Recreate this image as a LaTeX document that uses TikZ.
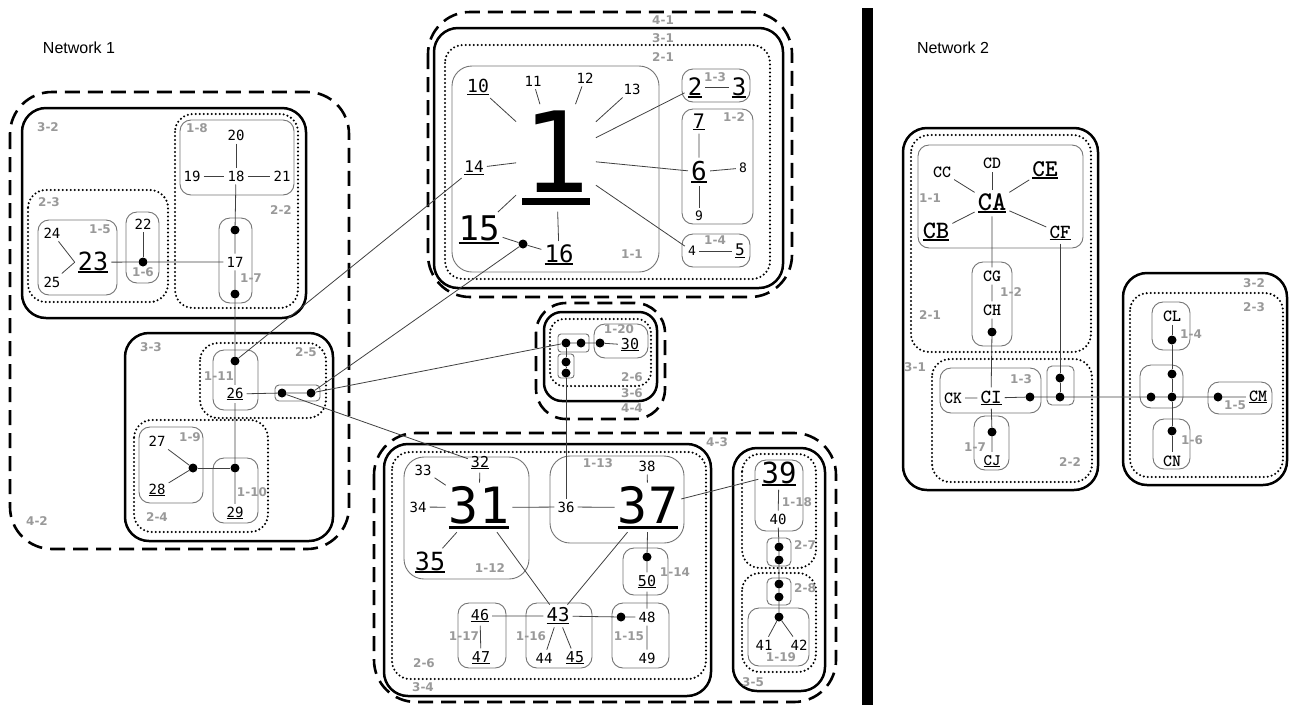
\documentclass[tikz,border=0pt]{standalone}
\usepackage{fontspec}
\setmainfont{Liberation Sans}
\newfontfamily\monof{DejaVu Sans Mono}
\newfontfamily\grpf{DejaVu Sans}
\newcommand{\mfs}[1]{\monof\fontsize{#1}{#1}\selectfont}
\newcommand{\cfs}[1]{\ttfamily\bfseries\fontsize{#1}{#1}\selectfont}
\newcommand{\uln}[1]{\setbox0=\hbox{#1}\rlap{\rule[-0.12em]{\wd0}{0.07em}}\box0}

\begin{document}
\begin{tikzpicture}[x=1pt, y=-1pt,
    lb/.style={font=\mfs{#1}, inner sep=3pt}, lb/.default=14,
    cl/.style={font=\cfs{#1}, inner sep=3pt}, cl/.default=17,
    gl/.style={font=\grpf\bfseries\fontsize{12}{12}\selectfont, text=black!40, inner sep=0pt},
    dt/.style={circle, fill=black, inner sep=0pt, minimum size=9pt},
    lk/.style={draw=black!75, line width=0.8pt},
    g1/.style={draw=black!55, line width=0.9pt, rounded corners=11pt},
    g2/.style={draw=black, line width=2.3pt, dash pattern=on 0pt off 4pt, line cap=round, rounded corners=18pt},
    g3/.style={draw=black, line width=2.5pt, rounded corners=24pt},
    g4/.style={draw=black, line width=2.6pt, dash pattern=on 15pt off 8pt, rounded corners=42pt}
  ]
  \useasboundingbox (0,0) rectangle (1290,705);

  % network titles and divider
  \node[font=\fontsize{16}{16}\selectfont] (net1) at (79,48) {Network 1};
  \node[font=\fontsize{16}{16}\selectfont] (net2) at (953,48) {Network 2};
  \fill (862,8) rectangle (873,705);

  % groups, network 1, left
  \draw[g4] (10,92) rectangle (349,549);
  \draw[g3] (22,108) rectangle (306,318);
  \draw[g2] (175,114) rectangle (298,308);
  \draw[g1] (180,120) rectangle (294,195);
  \draw[g2] (28,190) rectangle (168,302);
  \draw[g1] (38,220) rectangle (117,295);
  \draw[g1] (126,212) rectangle (159,283);
  \draw[g1] (219,218) rectangle (252,303);
  \draw[g3] (125,333) rectangle (333,541);
  \draw[g2] (200,343) rectangle (326,418);
  \draw[g1] (213,350) rectangle (258,410);
  \draw[g1, rounded corners=4pt] (275,385) rectangle (320,401);
  \draw[g2] (134,420) rectangle (268,532);
  \draw[g1] (139,427) rectangle (203,503);
  \draw[g1] (213,458) rectangle (258,523);

  % groups, top
  \draw[g4] (428,12) rectangle (792,297);
  \draw[g3] (434,28) rectangle (783,288);
  \draw[g2] (445,45) rectangle (770,279);
  \draw[g1, rounded corners=20pt] (452,66) rectangle (659,272);
  \draw[g1] (682,69) rectangle (750,102);
  \draw[g1] (682,109) rectangle (753,224);
  \draw[g1] (682,234) rectangle (750,267);

  % groups, centre
  \draw[g4, rounded corners=30pt] (536,303) rectangle (665,419);
  \draw[g3, rounded corners=18pt] (544,312) rectangle (657,401);
  \draw[g2, rounded corners=14pt] (550,319) rectangle (651,386);
  \draw[g1] (594,324) rectangle (648,358);
  \draw[g1, rounded corners=3pt] (558,334) rectangle (589,352);
  \draw[g1, rounded corners=3pt] (558,354) rectangle (574,378);

  % groups, bottom
  \draw[g4] (374,433) rectangle (836,702);
  \draw[g3] (384,444) rectangle (711,696);
  \draw[g2] (392,452) rectangle (706,679);
  \draw[g1, rounded corners=20pt] (404,457) rectangle (529,579);
  \draw[g1, rounded corners=20pt] (550,456) rectangle (684,543);
  \draw[g1] (623,548) rectangle (668,595);
  \draw[g1] (612,603) rectangle (669,668);
  \draw[g1] (526,603) rectangle (592,668);
  \draw[g1] (458,603) rectangle (506,668);
  \draw[g3] (733,448) rectangle (825,691);
  \draw[g2] (742,454) rectangle (816,568);
  \draw[g2] (742,573) rectangle (816,672);
  \draw[g1] (755,460) rectangle (803,531);
  \draw[g1, rounded corners=5pt] (767,538) rectangle (791,566);
  \draw[g1, rounded corners=5pt] (767,578) rectangle (791,605);
  \draw[g1] (748,608) rectangle (809,666);

  % groups, network 2
  \draw[g3] (903,128) rectangle (1098,490);
  \draw[g2] (911,135) rectangle (1091,352);
  \draw[g1] (918,145) rectangle (1083,248);
  \draw[g1] (972,262) rectangle (1012,346);
  \draw[g2] (932,359) rectangle (1092,482);
  \draw[g1] (940,368) rectangle (1041,413);
  \draw[g1, rounded corners=5pt] (1047,366) rectangle (1074,405);
  \draw[g1] (974,416) rectangle (1009,470);
  \draw[g3] (1123,273) rectangle (1287,485);
  \draw[g2] (1130,293) rectangle (1283,477);
  \draw[g1] (1152,302) rectangle (1190,350);
  \draw[g1] (1140,365) rectangle (1183,408);
  \draw[g1] (1208,382) rectangle (1272,414);
  \draw[g1] (1153,419) rectangle (1190,469);

  % group labels
  \node[gl] (q32) at (48,127) {3-2};
  \node[gl] (q18) at (197,128) {1-8};
  \node[gl] (q22) at (281,210) {2-2};
  \node[gl] (q23) at (49,202) {2-3};
  \node[gl] (q15) at (100,229) {1-5};
  \node[gl] (q16) at (143,272) {1-6};
  \node[gl] (q17) at (251,278) {1-7};
  \node[gl] (q42) at (37,521) {4-2};
  \node[gl] (q33) at (151,347) {3-3};
  \node[gl] (q25) at (306,352) {2-5};
  \node[gl] (q111) at (219,376) {1-11};
  \node[gl] (q19) at (190,437) {1-9};
  \node[gl] (q24) at (157,517) {2-4};
  \node[gl] (q110) at (252,492) {1-10};
  \node[gl] (q41) at (663,20) {4-1};
  \node[gl] (q31) at (663,38) {3-1};
  \node[gl] (q21) at (663,57) {2-1};
  \node[gl] (q13) at (715,77) {1-3};
  \node[gl] (q12) at (734,117) {1-2};
  \node[gl] (q14) at (715,240) {1-4};
  \node[gl] (q11) at (632,254) {1-1};
  \node[gl] (q120) at (619,329) {1-20};
  \node[gl] (q26a) at (632,377) {2-6};
  \node[gl] (q36) at (632,393) {3-6};
  \node[gl] (q44) at (632,408) {4-4};
  \node[gl] (q43) at (717,442) {4-3};
  \node[gl] (q113) at (598,463) {1-13};
  \node[gl] (q112) at (490,568) {1-12};
  \node[gl] (q114) at (675,572) {1-14};
  \node[gl] (q115) at (629,636) {1-15};
  \node[gl] (q116) at (531,636) {1-16};
  \node[gl] (q117) at (464,636) {1-17};
  \node[gl] (q26b) at (424,663) {2-6};
  \node[gl] (q34) at (423,687) {3-4};
  \node[gl] (q118) at (797,502) {1-18};
  \node[gl] (q27) at (805,545) {2-7};
  \node[gl] (q28) at (805,588) {2-8};
  \node[gl] (q119) at (781,657) {1-19};
  \node[gl] (q35) at (753,682) {3-5};
  \node[gl] (r11) at (930,198) {1-1};
  \node[gl] (r12) at (1011,292) {1-2};
  \node[gl] (r21) at (930,315) {2-1};
  \node[gl] (r31) at (915,367) {3-1};
  \node[gl] (r13) at (1021,379) {1-3};
  \node[gl] (r17) at (975,447) {1-7};
  \node[gl] (r22) at (1070,462) {2-2};
  \node[gl] (r32) at (1254,283) {3-2};
  \node[gl] (r23) at (1254,307) {2-3};
  \node[gl] (r14) at (1191,334) {1-4};
  \node[gl] (r15) at (1235,405) {1-5};
  \node[gl] (r16) at (1192,440) {1-6};

  % nodes, network 1, left
  \node[lb] (n20) at (236,135) {20};
  \node[lb] (n19) at (192,176) {19};
  \node[lb] (n18) at (236,176) {18};
  \node[lb] (n21) at (282,176) {21};
  \node[lb] (n24) at (52,233) {24};
  \node[lb=25, anchor=base] (n23) at (93,270) {\uln{23}};
  \node[lb] (n25) at (52,282) {25};
  \node[lb] (n22) at (143,224) {22};
  \node[dt] (d22) at (143,262) {};
  \node[lb] (n17) at (235,262) {17};
  \node[dt] (d17a) at (235,230) {};
  \node[dt] (d17b) at (235,294) {};
  \node[dt] (d26a) at (235,361) {};
  \node[lb] (n26) at (235,394) {\uln{26}};
  \node[dt] (d26b) at (282,393) {};
  \node[dt] (d26c) at (311,393) {};
  \node[lb] (n27) at (157,441) {27};
  \node[lb] (n28) at (157,490) {\uln{28}};
  \node[dt] (d27) at (193,468) {};
  \node[dt] (d29) at (235,468) {};
  \node[lb] (n29) at (235,513) {\uln{29}};

  % nodes, top
  \node[lb=112, inner sep=6pt, anchor=base] (n1) at (556,192) {\uln{1}};
  \node[lb=18] (n10) at (478,87) {\uln{10}};
  \node[lb] (n11) at (533,81) {11};
  \node[lb] (n12) at (585,78) {12};
  \node[lb] (n13) at (632,89) {13};
  \node[lb=16] (n14) at (474,168) {\uln{14}};
  \node[lb=34, anchor=base] (n15) at (479,240) {\uln{15}};
  \node[lb=24, anchor=base] (n16) at (559,262) {\uln{16}};
  \node[dt] (d15) at (523,244) {};
  \node[lb=24, anchor=base] (n2) at (695,95) {\uln{2}};
  \node[lb=24, anchor=base] (n3) at (739,95) {\uln{3}};
  \node[lb=20] (n7) at (699,122) {\uln{7}};
  \node[lb=26, anchor=base] (n6) at (699,180) {\uln{6}};
  \node[lb=13] (n8) at (743,168) {8};
  \node[lb=13] (n9) at (699,216) {9};
  \node[lb=13] (n4) at (692,251) {4};
  \node[lb=16] (n5) at (740,251) {\uln{5}};

  % nodes, centre
  \node[dt] (d30a) at (566,343) {};
  \node[dt] (d30b) at (581,343) {};
  \node[dt] (d30c) at (600,343) {};
  \node[lb=15] (n30) at (630,345) {\uln{30}};
  \node[dt] (d30d) at (566,362) {};
  \node[dt] (d30e) at (566,373) {};

  % nodes, bottom
  \node[lb=50, anchor=base] (n31) at (479,523) {\uln{31}};
  \node[lb=15] (n32) at (480,463) {\uln{32}};
  \node[lb] (n33) at (423,470) {33};
  \node[lb] (n34) at (418,507) {34};
  \node[lb=25, anchor=base] (n35) at (430,570) {\uln{35}};
  \node[lb] (n36) at (566,507) {36};
  \node[lb=50, anchor=base] (n37) at (648,523) {\uln{37}};
  \node[lb] (n38) at (647,466) {38};
  \node[dt] (d50) at (647,557) {};
  \node[lb=15] (n50) at (647,582) {\uln{50}};
  \node[dt] (d48) at (621,617) {};
  \node[lb] (n48) at (647,617) {48};
  \node[lb] (n49) at (647,658) {49};
  \node[lb=19] (n43) at (558,616) {\uln{43}};
  \node[lb] (n44) at (544,658) {44};
  \node[lb=15] (n45) at (575,658) {\uln{45}};
  \node[lb=15] (n46) at (480,616) {\uln{46}};
  \node[lb=15] (n47) at (481,658) {\uln{47}};
  \node[lb=29, anchor=base] (n39) at (779,483) {\uln{39}};
  \node[lb] (n40) at (778,519) {40};
  \node[dt] (d39a) at (779,547) {};
  \node[dt] (d39b) at (779,560) {};
  \node[dt] (d39c) at (779,584) {};
  \node[dt] (d39d) at (779,597) {};
  \node[dt] (d41) at (779,617) {};
  \node[lb] (n41) at (764,645) {41};
  \node[lb] (n42) at (799,645) {42};

  % nodes, network 2
  \node[cl] (nCD) at (992,163) {CD};
  \node[cl] (nCC) at (942,172) {CC};
  \node[cl=24] (nCE) at (1045,170) {\uln{CE}};
  \node[cl=27, anchor=base] (nCA) at (992,210) {\uln{CA}};
  \node[cl=25, anchor=base] (nCB) at (936,238) {\uln{CB}};
  \node[cl=20, anchor=base] (nCF) at (1060,238) {\uln{CF}};
  \node[cl] (nCG) at (992,276) {CG};
  \node[cl] (nCH) at (992,310) {CH};
  \node[dt] (dCH) at (992,332) {};
  \node[cl] (nCK) at (953,398) {CK};
  \node[cl=20] (nCI) at (991,398) {\uln{CI}};
  \node[dt] (dCI) at (1030,397) {};
  \node[dt] (dCF1) at (1060,378) {};
  \node[dt] (dCF2) at (1060,397) {};
  \node[dt] (dCJ) at (992,432) {};
  \node[cl=16] (nCJ) at (992,461) {\uln{CJ}};
  \node[cl] (nCL) at (1172,316) {CL};
  \node[dt] (dCL) at (1172,340) {};
  \node[dt] (dX1) at (1172,374) {};
  \node[dt] (dX2) at (1151,397) {};
  \node[dt] (dX3) at (1172,397) {};
  \node[dt] (dCM) at (1218,397) {};
  \node[cl] (nCM) at (1258,397) {\uln{CM}};
  \node[dt] (dCN) at (1172,431) {};
  \node[cl] (nCN) at (1172,461) {CN};

  % links, network 1
  \draw[lk] (n20) -- (n18);
  \draw[lk] (n19) -- (n18) -- (n21);
  \draw[lk] (n18) -- (d17a) -- (n17) -- (d17b) -- (d26a) -- (n26) -- (d29) -- (n29);
  \draw[lk] (n24) -- (n23.west);
  \draw[lk] (n25) -- (n23.west);
  \draw[lk] (n23) -- (d22) -- (n17);
  \draw[lk] (n22) -- (d22);
  \draw[lk] (n27) -- (d27) -- (n28);
  \draw[lk] (d27) -- (d29);
  \draw[lk] (n26) -- (d26b) -- (d26c);
  \draw[lk] (d26a) -- (n14);
  \draw[lk] (d26c) -- (d15);
  \draw[lk] (d26c) -- (d30a);
  \draw[lk] (d26b) -- (n32);

  \foreach \t in {n10,n11,n12,n13,n14,n15,n16,n2,n6,n4}
    \draw[lk] (n1) -- (\t);
  \draw[lk] (n2) -- (n3);
  \draw[lk] (n7) -- (n6) -- (n8);
  \draw[lk] (n6) -- (n9);
  \draw[lk] (n4) -- (n5);
  \draw[lk] (n15) -- (d15) -- (n16);

  \draw[lk] (d30a) -- (d30b) -- (d30c) -- (n30);
  \draw[lk] (d30a) -- (d30d) -- (d30e) -- (n36);

  \foreach \t in {n32,n33,n34,n35,n36,n43}
    \draw[lk] (n31) -- (\t);
  \draw[lk] (n36) -- (n37);
  \draw[lk] (n38) -- (n37);
  \draw[lk] (n37) -- (n43);
  \draw[lk] (n37) -- (d50) -- (n50) -- (n48) -- (n49);
  \draw[lk] (n46) -- (n43) -- (d48) -- (n48);
  \draw[lk] (n46) -- (n47);
  \draw[lk] (n43) -- (n44);
  \draw[lk] (n43) -- (n45);
  \draw[lk] (n37) -- (n39);
  \draw[lk] (n39) -- (n40) -- (d39a) -- (d39b) -- (d39c) -- (d39d) -- (d41);
  \draw[lk] (d41) -- (n41);
  \draw[lk] (d41) -- (n42);

  % links, network 2
  \foreach \t in {nCD,nCC,nCE,nCB,nCF}
    \draw[lk] (nCA) -- (\t);
  \draw[lk] (nCA) -- (nCG) -- (nCH) -- (dCH) -- (nCI) -- (dCJ) -- (nCJ);
  \draw[lk] (nCK) -- (nCI) -- (dCI) -- (dCF2) -- (dX2) -- (dX3) -- (dCM) -- (nCM);
  \draw[lk] (nCF) -- (dCF1) -- (dCF2);
  \draw[lk] (nCL) -- (dCL) -- (dX1) -- (dX3) -- (dCN) -- (nCN);
\end{tikzpicture}
\end{document}
